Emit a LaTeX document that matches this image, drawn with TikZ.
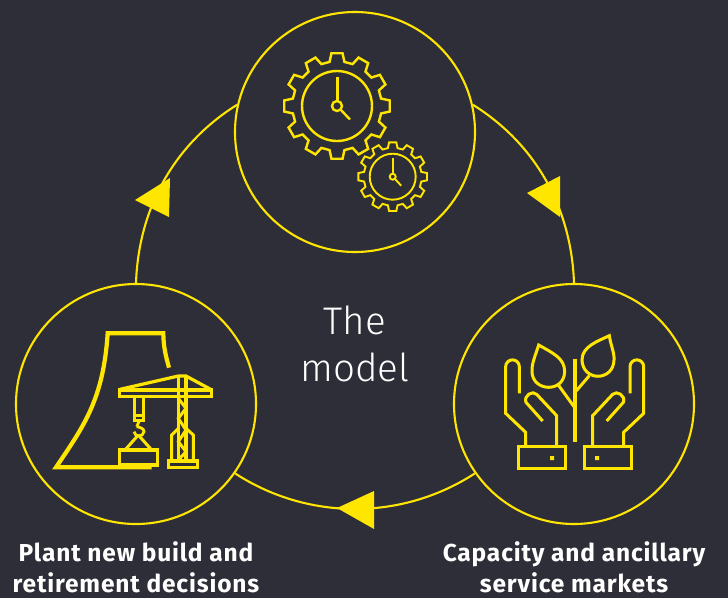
\documentclass[tikz,border=0pt]{standalone}
\usepackage{fontspec}
\setmainfont{Fira Sans}[LetterSpace=3.5]
\newfontfamily\lightf{Fira Sans Light}
\definecolor{bgc}{HTML}{2E2E38}
\definecolor{ey}{HTML}{FFE600}
\tikzset{
  ring/.style={circle,draw=ey,line width=2.1pt,minimum size=240pt,inner sep=0pt},
  link/.style={draw=ey,line width=2.1pt,looseness=0.93},
  head/.style={fill=ey},
  icon/.style={draw=ey,line width=2.4pt,line join=miter},
  iconb/.style={draw=ey,line width=3.2pt,line join=miter},
  lab/.style={text=white,font=\bfseries\fontsize{24.5}{31.5}\selectfont,align=center,inner sep=0pt},
  big/.style={text=white,font=\lightf\fontsize{38.5}{47}\selectfont,align=center,inner sep=0pt}
}
\newcommand{\geartrace}[2]{%
  (-9.6:#2) \foreach \a in {0,30,...,330} {
    -- ({\a-9.6}:#2) -- ({\a-6}:#1) -- ({\a+6}:#1) -- ({\a+9.6}:#2) } -- cycle}
\begin{document}
\begin{tikzpicture}[x=1pt,y=-1pt]
\useasboundingbox[fill=bgc] (0,0) rectangle (728,598);
\node[ring] (top) at (355,132) {};
\node[ring] (left) at (136,404) {};
\node[ring] (right) at (574,404) {};
\draw[link] (top.13) to[out=-32,in=92] (right.90);
\draw[link] (right.215) to[out=-147,in=-33] (left.-35);
\draw[link] (left.90) to[out=88,in=-148] (top.167);
\fill[head] (527,193) -- (560,176) -- (560,217) -- cycle;
\fill[head] (135,200) -- (170,178) -- (169,217) -- cycle;
\fill[head] (337,508) -- (374,491) -- (374,529) -- cycle;
\node[big] (model) at (355,344) {The\\model};
\node[lab] (l1) at (136,567.5) {Plant new build and\\retirement decisions};
\node[lab] (l2) at (574,567.5) {Capacity and ancillary\\service markets};
% gears
\begin{scope}[shift={(337,106)}]
  \draw[icon] \geartrace{53}{44.7};
  \draw[icon] (0,0) circle[radius=35];
  \draw[icon,line width=3pt] (0,-29) -- (0,-5);
  \draw[icon,fill=bgc] (0,0) circle[radius=5];
  \draw[icon] (3.6,3.6) -- (13,13.5);
\end{scope}
\begin{scope}[shift={(392.7,176.7)}]
  \draw[icon,line width=1.9pt,fill=bgc] \geartrace{34.5}{29};
  \draw[icon,line width=1.9pt] (0,0) circle[radius=23];
  \draw[icon,line width=2.3pt] (0,-19) -- (0,-3);
  \draw[icon,line width=1.9pt] (0,0) circle[radius=3];
  \draw[icon,line width=1.9pt] (2.2,2.2) -- (8.5,9);
\end{scope}
% crane
\begin{scope}[shift={(40,320)},scale=1/3]
  \draw[iconb,line width=4.2pt] (335,442) -- (48,442) .. controls (130,320) and (190,240) .. (203,40) -- (370,40) .. controls (370,80) and (378,110) .. (387,143);
  \draw[iconb,fill=bgc,line width=3.2pt] (238,210) rectangle (515,230);
  \draw[iconb,line width=3.2pt] (240,208) -- (415,168) -- (438,168) -- (512,208);
  \draw[iconb,line width=3.2pt] (415,168) -- (415,420) (438,168) -- (438,420);
  \draw[iconb,line width=3pt] (415,235) -- (438,265) -- (415,295) -- (438,330) -- (415,365) -- (438,395) -- (415,420);
  \draw[iconb,line width=3pt] (415,325) -- (395,345) -- (395,422) (438,325) -- (460,345) -- (460,422);
  \draw[iconb,fill=bgc,line width=3.2pt] (385,423) rectangle (472,443);
  \draw[iconb,line width=3pt] (282,230) -- (282,300) -- (310,300) -- (310,230) (282,285) -- (310,285);
  \draw[iconb,line width=2.8pt] (297,305) -- (290,320) (282,335) .. controls (284,352) and (310,352) .. (312,335) .. controls (312,325) and (300,322) .. (290,320);
  \draw[iconb,line width=3pt] (295,345) -- (255,390) (295,345) -- (335,390);
  \draw[iconb,fill=bgc,line width=3.2pt] (238,390) rectangle (353,435);
\end{scope}
% hands
\begin{scope}[shift={(490,325)},scale=1/3]
  \draw[iconb] (255,102) -- (255,352);
  \draw[iconb,line width=3pt] (85,365) rectangle (225,430);
  \draw[iconb,line width=3pt] (283,365) rectangle (423,430);
  \fill[ey] (180,393) rectangle (192,405) (315,393) rectangle (327,405);
  \draw[icon,line width=3pt]
    (88,205) -- (88,125) arc[start angle=0,end angle=-180,radius=20.5] -- (47,265) -- (107,322) -- (107,365)
    (200,365) -- (200,272) -- (140,208) .. controls (128,195) and (100,212) .. (108,232) -- (158,288);
  \draw[icon,line width=3pt]
    (420,205) -- (420,125) arc[start angle=180,end angle=360,radius=20.5] -- (461,265) -- (401,322) -- (401,365)
    (308,365) -- (308,272) -- (368,208) .. controls (380,195) and (408,212) .. (400,232) -- (350,288);
  \draw[icon,line width=3pt] (146,60) .. controls (135,95) and (125,115) .. (126,140)
    .. controls (127,200) and (222,205) .. (224,140) .. controls (224,100) and (190,85) .. (146,60) -- cycle;
  \draw[icon,line width=3pt] (205,180) -- (252,245);
  \draw[icon,line width=3pt] (358,32) .. controls (362,60) and (374,85) .. (372,105)
    .. controls (370,170) and (278,170) .. (276,105) .. controls (276,65) and (320,50) .. (358,32) -- cycle;
  \draw[icon,line width=3pt] (298,152) -- (255,202);
\end{scope}
\end{tikzpicture}
\end{document}
